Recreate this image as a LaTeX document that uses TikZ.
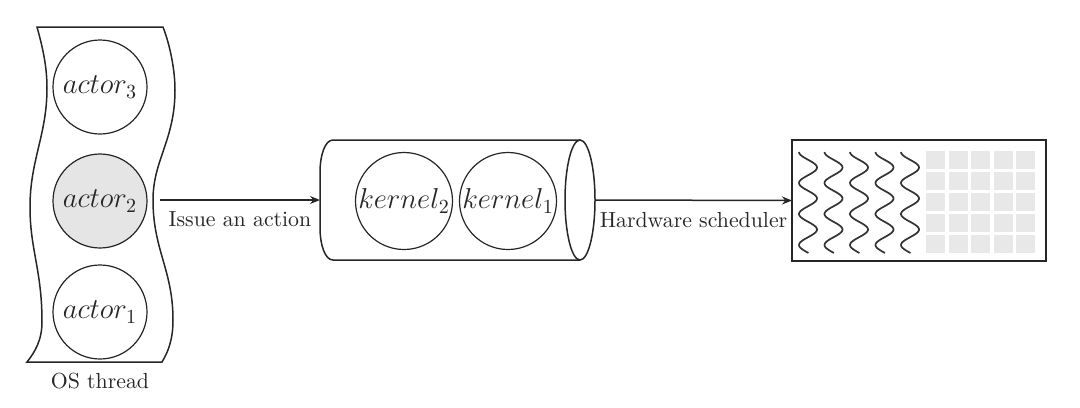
\documentclass[tikz,border=0pt]{standalone}
\usetikzlibrary{arrows.meta}
\begin{document}
\begin{tikzpicture}[x=0.5pt,y=-0.5pt, line width=0.75pt,
  every node/.style={inner sep=0pt, outer sep=0pt, text=black!85},
  ln/.style={draw=black!85, line width=0.75pt},
  arr/.style={draw=black!85, line width=0.75pt, -{Stealth[length=5pt,width=4pt]}},
  mathfont/.style={font=\fontsize{14}{16}\selectfont},
  actorc/.style={circle, draw=black!85, line width=0.6pt, minimum size=47pt, mathfont},
  kernc/.style={circle, draw=black!85, line width=0.6pt, minimum size=48.5pt, mathfont},
  lbl/.style={font=\fontsize{10.9}{13}\selectfont},
  wave/.style={draw=black!80, line width=0.85pt},
  cell/.style={fill=gray!18, minimum width=9.5pt, minimum height=9pt}]
\useasboundingbox (0,0) rectangle (1080,407);

% OS thread (wavy band)
\draw[ln] (37,27) -- (163,27)
  .. controls (170,45) and (175,70) .. (175,90)
  .. controls (175,140) and (153,160) .. (153,200)
  .. controls (153,250) and (173,270) .. (173,320)
  .. controls (173,340) and (168,352) .. (162,362)
  -- (27,362)
  .. controls (35,352) and (42,340) .. (42,322)
  .. controls (42,270) and (30,250) .. (30,207)
  .. controls (30,160) and (47,135) .. (47,88)
  .. controls (47,65) and (42,45) .. (37,27) -- cycle;

\node[actorc] (actor3) at (100,87) {$actor_3$};
\node[actorc, fill=gray!20] (actor2) at (100,201) {$actor_2$};
\node[actorc] (actor1) at (100,312) {$actor_1$};
\node[lbl] (osthread) at (100,381) {OS thread};

% queue (cylinder)
\node[minimum width=137.5pt, minimum height=60pt] (queue) at (457.5,200) {};
\draw[ln] (580,140) -- (333,140)
  .. controls (325,140) and (320,155) .. (320,173) -- (320,227)
  .. controls (320,245) and (325,260) .. (333,260) -- (580,260);
\draw[ln] (580,200) ellipse [x radius=15, y radius=60];
\node[kernc] (kernel2) at (404,201) {$kernel_2$};
\node[kernc] (kernel1) at (508,201) {$kernel_1$};

% GPU box
\node[draw=black!85, line width=0.75pt, minimum width=127pt, minimum height=60.5pt] (gpu) at (919,200.5) {};
\foreach \cx in {808,833.5,859,884.5,910}
  \draw[wave] plot[domain=0:101, samples=80, smooth] ({\cx-9*cos(11.6129*\x)}, {152+\x});
\foreach \i in {0,...,4}
  \foreach \j in {0,...,4}
    \node[cell] (c\i\j) at (935.5+22.6*\i, 159.7+21.1*\j) {};

% connectors
\coordinate (a1s) at (160,200);
\draw[arr] (a1s) -- (queue.west) node[midway, below=6pt, lbl] (issue) {Issue an action};
\draw[arr] (queue.east) -- (gpu.west) node[midway, below=6pt, lbl] (hw) {Hardware scheduler};
\end{tikzpicture}
\end{document}
